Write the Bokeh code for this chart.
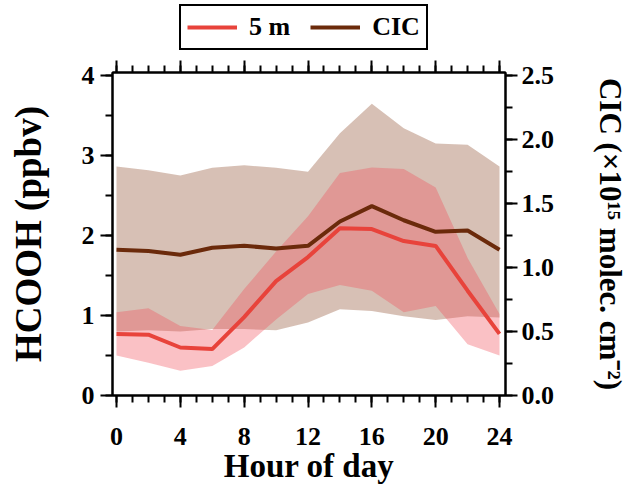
from bokeh.plotting import figure
from bokeh.layouts import column
from bokeh.models import (Range1d, LinearAxis, SingleIntervalTicker, Legend, LegendItem,
                          CustomJSTickFormatter, NumeralTickFormatter)
from bokeh.embed import file_html
from bokeh.resources import INLINE

# ---------------- data ----------------
hours = [0, 2, 4, 6, 8, 10, 12, 14, 16, 18, 20, 22, 24]
hcooh_5m = [0.77, 0.76, 0.60, 0.58, 0.98, 1.43, 1.73, 2.09, 2.08, 1.93, 1.87, 1.31, 0.77]
hcooh_upper = [1.04, 1.09, 0.87, 0.82, 1.33, 1.80, 2.24, 2.78, 2.85, 2.83, 2.60, 1.72, 1.02]
hcooh_lower = [0.50, 0.41, 0.31, 0.37, 0.60, 0.95, 1.27, 1.38, 1.31, 1.04, 1.12, 0.64, 0.50]
cic = [1.14, 1.13, 1.10, 1.155, 1.17, 1.15, 1.17, 1.36, 1.48, 1.37, 1.28, 1.29, 1.14]
cic_upper = [1.79, 1.76, 1.72, 1.78, 1.80, 1.78, 1.75, 2.05, 2.28, 2.09, 1.97, 1.96, 1.79]
cic_lower = [0.50, 0.51, 0.50, 0.52, 0.52, 0.51, 0.57, 0.675, 0.66, 0.62, 0.59, 0.62, 0.61]
series_labels = ["5 m", "CIC"]
x_title = "Hour of day"
y_title = "HCOOH (ppbv)"
y2_title = "CIC (\u00d710\u00b9\u2075 molec. cm\u207b\u00b2)"

# ---------------- layout ----------------
W, H = 631, 488
LH = 56                      # height of the legend strip
FL, FR, FT, FB = 112, 506, 72, 395
FONT = "Liberation Serif"
RED = "#E8433B"
BROWN = "#6B2A0B"

p = figure(width=W, height=H - LH, output_backend="svg", toolbar_location=None,
           x_range=Range1d(-0.25, 24.375), y_range=Range1d(0, 4.0375),
           min_border_left=FL, min_border_right=W - FR,
           min_border_top=FT - LH, min_border_bottom=H - FB)
p.extra_y_ranges = {"cic": Range1d(0, 2.525)}
p.grid.visible = False
p.outline_line_color = "black"
p.outline_line_width = 2
p.background_fill_color = "white"
p.border_fill_color = "white"


def style(ax, standoff=6):
    ax.axis_line_width = 2
    ax.axis_line_color = "black"
    ax.major_tick_line_width = 2
    ax.minor_tick_line_width = 2
    ax.major_tick_out = 12
    ax.major_tick_in = 0
    ax.minor_tick_out = 7
    ax.minor_tick_in = 0
    ax.major_label_text_font = FONT
    ax.major_label_text_font_style = "bold"
    ax.major_label_text_font_size = "26px"
    ax.major_label_text_color = "black"
    ax.major_label_standoff = standoff
    ax.axis_label_text_font = FONT
    ax.axis_label_text_font_style = "bold"
    ax.axis_label_text_color = "black"


xa = p.xaxis[0]
xa.ticker = SingleIntervalTicker(interval=4, num_minor_ticks=4)
style(xa, standoff=20)
xa.axis_label = x_title
xa.axis_label_text_font_size = "33px"
xa.axis_label_standoff = 0

ya = p.yaxis[0]
ya.ticker = SingleIntervalTicker(interval=1, num_minor_ticks=2)
style(ya, standoff=6)
ya.axis_label = y_title
ya.axis_label_text_font_size = "37px"
ya.axis_label_standoff = 30

top = LinearAxis(ticker=SingleIntervalTicker(interval=4, num_minor_ticks=4),
                 formatter=CustomJSTickFormatter(code="return ''"))
style(top, standoff=0)
top.major_label_text_font_size = "1px"
p.add_layout(top, "above")

ra = LinearAxis(y_range_name="cic", ticker=SingleIntervalTicker(interval=0.5, num_minor_ticks=2),
                formatter=NumeralTickFormatter(format="0.0"))
style(ra, standoff=4)
ra.axis_label = y2_title
ra.axis_label_text_font_size = "31px"
ra.axis_label_standoff = 36
p.add_layout(ra, "right")

# ---------------- glyphs ----------------
p.varea(x=hours, y1=cic_lower, y2=cic_upper, y_range_name="cic",
        fill_color="#8B4A2B", fill_alpha=0.35)
p.varea(x=hours, y1=hcooh_lower, y2=hcooh_upper, fill_color="#F24E5A", fill_alpha=0.35)
p.line(hours, hcooh_5m, line_color=RED, line_width=4)
p.line(hours, cic, y_range_name="cic", line_color=BROWN, line_width=4)

# ---------------- legend strip ----------------
# the key lines reuse the series, kept out of this strip's visible range
lg = figure(width=W, height=LH, output_backend="svg", toolbar_location=None,
            x_axis_location=None, y_axis_location=None, min_border=0,
            x_range=Range1d(100, 101), y_range=Range1d(100, 101))
lg.grid.visible = False
lg.outline_line_color = None
lg.background_fill_color = "white"
lg.border_fill_color = "white"
k_red = lg.line(hours, hcooh_5m, line_color=RED, line_width=4)
k_brown = lg.line(hours, cic, line_color=BROWN, line_width=4)

legend = Legend(items=[LegendItem(label=series_labels[0], renderers=[k_red]),
                       LegendItem(label=series_labels[1], renderers=[k_brown])],
                orientation="horizontal", location=(179 - FL, LH - 50))
legend.border_line_color = "black"
legend.border_line_alpha = 1
legend.border_line_width = 2
legend.label_text_font = FONT
legend.label_text_font_style = "bold"
legend.label_text_font_size = "26px"
legend.label_text_color = "black"
legend.glyph_width = 50
legend.glyph_height = 22
legend.label_standoff = 12
legend.spacing = 20
legend.padding = 6
legend.margin = 0
legend.background_fill_alpha = 1
lg.add_layout(legend)

layout = column(lg, p, spacing=0)
open("out.html", "w").write(file_html(layout, INLINE))
